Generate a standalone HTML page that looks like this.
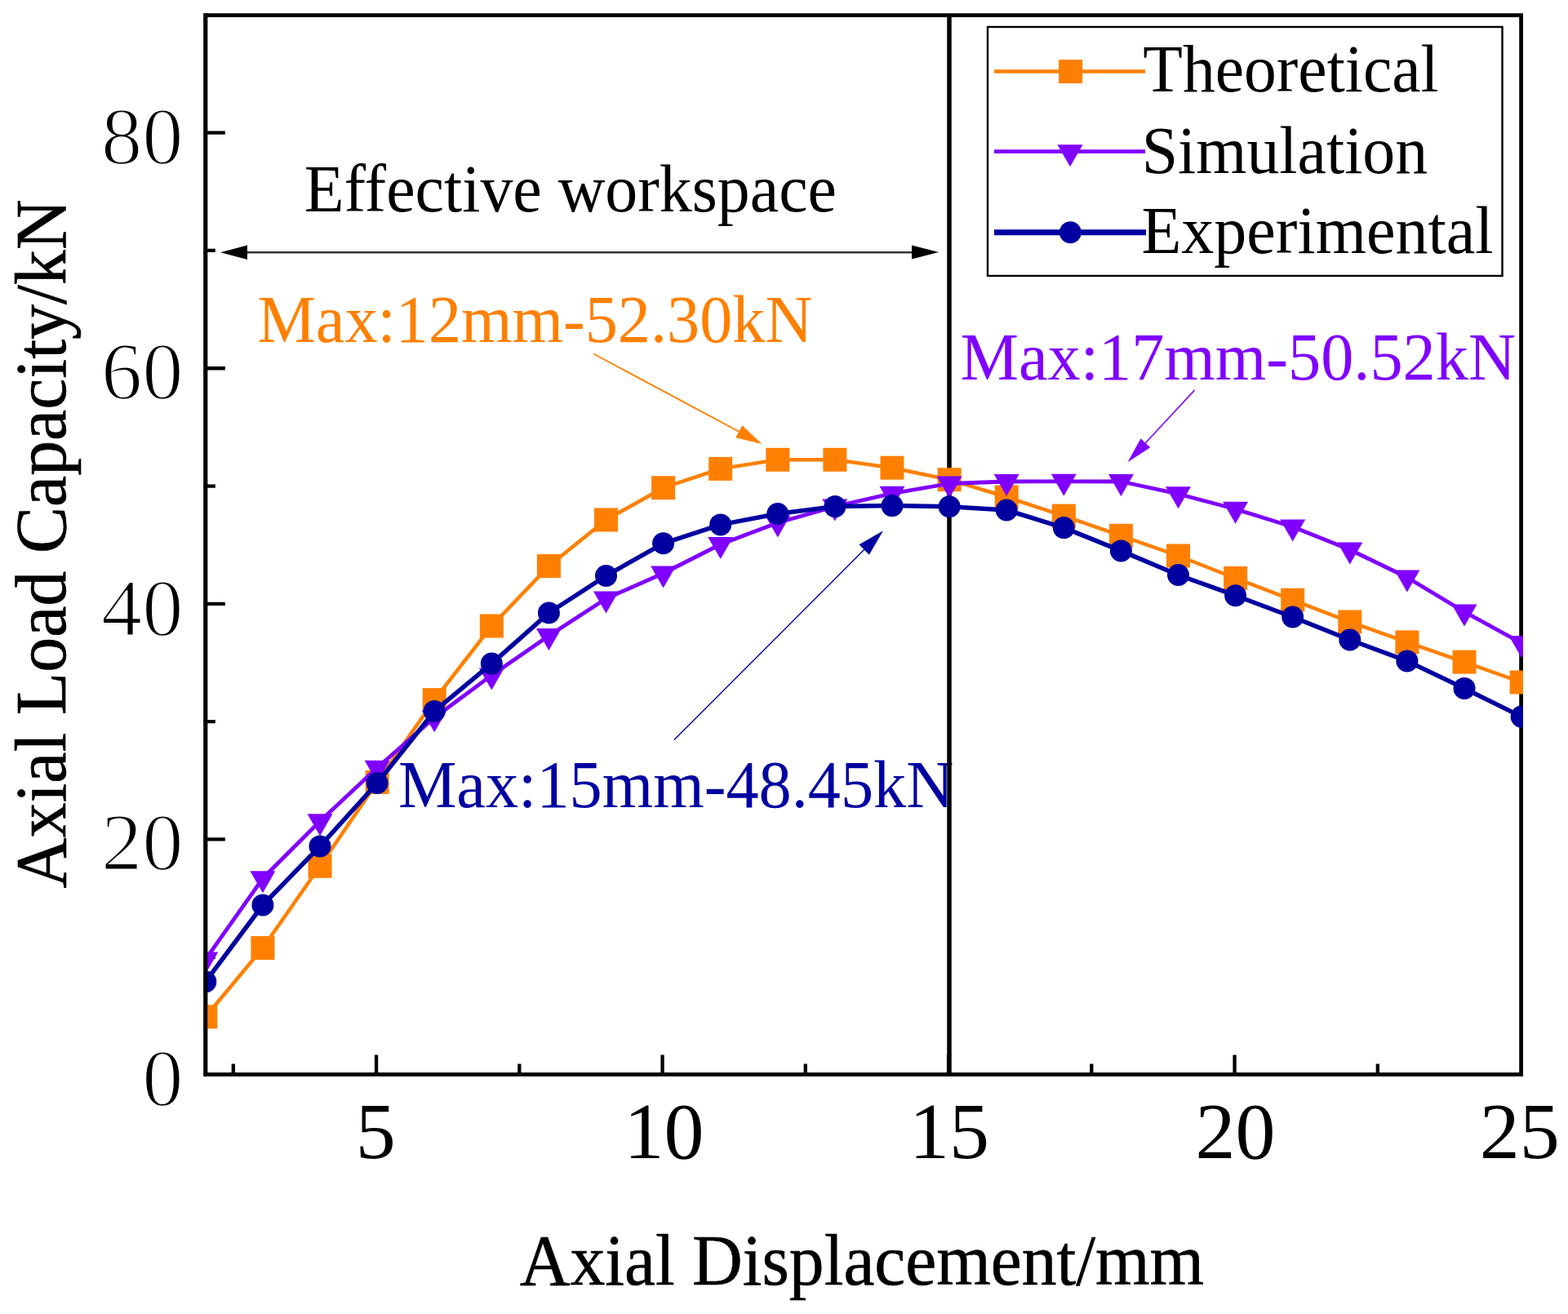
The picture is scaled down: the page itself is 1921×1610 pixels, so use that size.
<!DOCTYPE html>
<html><head><meta charset="utf-8"><title>Axial Load Capacity vs Axial Displacement</title>
<style>html,body{margin:0;padding:0;background:#fff;overflow:hidden;width:1921px;height:1610px;}svg{display:block;}</style></head>
<body><svg width="1921" height="1610" viewBox="0 0 1921 1610" font-family="'Liberation Serif', 'Times New Roman', serif">
<rect x="0" y="0" width="1921" height="1610" fill="#fff"/>
<rect x="251.8" y="18.7" width="1611.8" height="1297.8" fill="none" stroke="#000" stroke-width="4.8"/>
<path d="M461.06,1316.5V1292.5M811.56,1316.5V1292.5M1162.06,1316.5V1292.5M1512.56,1316.5V1292.5M285.81,1316.5V1303.5M636.31,1316.5V1303.5M986.81,1316.5V1303.5M1337.31,1316.5V1303.5M1687.81,1316.5V1303.5M251.8,1028.46H275.8M251.8,739.86H275.8M251.8,451.26H275.8M251.8,162.66H275.8M251.8,1172.76H263.8M251.8,884.16H263.8M251.8,595.56H263.8M251.8,306.96H263.8" stroke="#000" stroke-width="4.3" fill="none"/>
<g font-family="Liberation Serif, Times New Roman, serif">
<text x="224.6" y="200.2" font-size="100.5" text-anchor="end" stroke="#fff" stroke-width="2.2">80</text>
<text x="224.6" y="488.2" font-size="100.5" text-anchor="end" stroke="#fff" stroke-width="2.2">60</text>
<text x="224.6" y="778.0" font-size="100.5" text-anchor="end" stroke="#fff" stroke-width="2.2">40</text>
<text x="224.6" y="1065.0" font-size="100.5" text-anchor="end" stroke="#fff" stroke-width="2.2">20</text>
<text x="224.6" y="1354.4" font-size="100.5" text-anchor="end" stroke="#fff" stroke-width="2.2">0</text>
<text x="460.3" y="1418.8" font-size="98" text-anchor="middle">5</text>
<text x="813.5" y="1418.8" font-size="98" text-anchor="middle">10</text>
<text x="1163.1" y="1418.8" font-size="98" text-anchor="middle">15</text>
<text x="1513.5" y="1418.8" font-size="98" text-anchor="middle">20</text>
<text x="1861.7" y="1418.8" font-size="98" text-anchor="middle">25</text>
<text transform="translate(636.64,1573.5) scale(0.9558,1)" font-size="89.5" fill="#000" stroke="#000" stroke-width="0.6">Axial Displacement/mm</text>
<text transform="translate(79.5,1088.46) rotate(-90) scale(0.9597,1)" font-size="89.5" fill="#000" stroke="#000" stroke-width="0.6">Axial Load Capacity/kN</text>
<text transform="translate(372.7,258.7) scale(0.9737,1)" font-size="82" fill="#000">Effective workspace</text>
<text transform="translate(315.39,419.4) scale(0.9674,1)" font-size="83" fill="#FF8000">Max:12mm-52.30kN</text>
<text transform="translate(1176.49,465.1) scale(0.9679,1)" font-size="83" fill="#8000FF">Max:17mm-50.52kN</text>
<text transform="translate(487.89,989.4) scale(0.9679,1)" font-size="83" fill="#0000A0">Max:15mm-48.45kN</text>
</g>
<line x1="300" y1="309.2" x2="1120" y2="309.2" stroke="#333" stroke-width="2.4"/>
<polygon points="270,309.2 303,300.5 303,317.9" fill="#000"/>
<polygon points="1150,309 1117,300.5 1117,317.5" fill="#000"/>
<line x1="727.1" y1="433.5" x2="906.16" y2="529.28" stroke="#FF8000" stroke-width="1.9"/><polygon points="933.5,543.9 901.27,536.3 909.29,521.31" fill="#FF8000"/>
<line x1="1463.6" y1="477.9" x2="1402.69" y2="543.48" stroke="#8000FF" stroke-width="1.6"/><polygon points="1381.6,566.2 1397.51,537.31 1409.24,548.2" fill="#8000FF"/>
<line x1="825.9" y1="906.5" x2="1059.38" y2="672.84" stroke="#0000A0" stroke-width="1.4"/><polygon points="1082,650.2 1064.86,679.73 1052.48,667.36" fill="#0000A0"/>
<line x1="1163" y1="18.8" x2="1163" y2="1316.2" stroke="#000" stroke-width="5.5"/>
<clipPath id="pc"><rect x="252" y="15" width="1614" height="1305"/></clipPath>
<g clip-path="url(#pc)">
<polyline points="251.8,1245.8 321.9,1161.5 392,1061.3 462.1,958.4 532.2,857.6 602.3,767 672.4,693.6 742.5,637 812.6,597.7 882.7,574.4 952.8,563.3 1022.9,563.3 1093,573.2 1163.1,587.7 1233.2,609 1303.3,632.1 1373.4,656.3 1443.5,681 1513.6,708.5 1583.7,735.2 1653.8,762 1723.9,786.9 1794,811.1 1864.1,836" fill="none" stroke="#FF8000" stroke-width="4.5" stroke-linejoin="round" stroke-linecap="round"/>
<rect x="237.3" y="1231.3" width="29" height="29" fill="#FF8000"/>
<rect x="307.4" y="1147" width="29" height="29" fill="#FF8000"/>
<rect x="377.5" y="1046.8" width="29" height="29" fill="#FF8000"/>
<rect x="447.6" y="943.9" width="29" height="29" fill="#FF8000"/>
<rect x="517.7" y="843.1" width="29" height="29" fill="#FF8000"/>
<rect x="587.8" y="752.5" width="29" height="29" fill="#FF8000"/>
<rect x="657.9" y="679.1" width="29" height="29" fill="#FF8000"/>
<rect x="728" y="622.5" width="29" height="29" fill="#FF8000"/>
<rect x="798.1" y="583.2" width="29" height="29" fill="#FF8000"/>
<rect x="868.2" y="559.9" width="29" height="29" fill="#FF8000"/>
<rect x="938.3" y="548.8" width="29" height="29" fill="#FF8000"/>
<rect x="1008.4" y="548.8" width="29" height="29" fill="#FF8000"/>
<rect x="1078.5" y="558.7" width="29" height="29" fill="#FF8000"/>
<rect x="1148.6" y="573.2" width="29" height="29" fill="#FF8000"/>
<rect x="1218.7" y="594.5" width="29" height="29" fill="#FF8000"/>
<rect x="1288.8" y="617.6" width="29" height="29" fill="#FF8000"/>
<rect x="1358.9" y="641.8" width="29" height="29" fill="#FF8000"/>
<rect x="1429" y="666.5" width="29" height="29" fill="#FF8000"/>
<rect x="1499.1" y="694" width="29" height="29" fill="#FF8000"/>
<rect x="1569.2" y="720.7" width="29" height="29" fill="#FF8000"/>
<rect x="1639.3" y="747.5" width="29" height="29" fill="#FF8000"/>
<rect x="1709.4" y="772.4" width="29" height="29" fill="#FF8000"/>
<rect x="1779.5" y="796.6" width="29" height="29" fill="#FF8000"/>
<rect x="1849.6" y="821.5" width="29" height="29" fill="#FF8000"/>
<polyline points="251.8,1175.4 321.9,1076.3 392,1006.2 462.1,940.7 532.2,879.3 602.3,827.4 672.4,779 742.5,733.5 812.6,702.5 882.7,667 952.8,640.5 1022.9,620.5 1093,604.7 1163.1,592.5 1233.2,590 1303.3,589.8 1373.4,590 1443.5,605.2 1513.6,623.8 1583.7,645.5 1653.8,673.5 1723.9,707.5 1794,749.6 1864.1,788" fill="none" stroke="#8000FF" stroke-width="4.8" stroke-linejoin="round" stroke-linecap="round"/>
<polygon points="236.3,1166.4 267.3,1166.4 251.8,1193.4" fill="#8000FF"/>
<polygon points="306.4,1067.3 337.4,1067.3 321.9,1094.3" fill="#8000FF"/>
<polygon points="376.5,997.2 407.5,997.2 392,1024.2" fill="#8000FF"/>
<polygon points="446.6,931.7 477.6,931.7 462.1,958.7" fill="#8000FF"/>
<polygon points="516.7,870.3 547.7,870.3 532.2,897.3" fill="#8000FF"/>
<polygon points="586.8,818.4 617.8,818.4 602.3,845.4" fill="#8000FF"/>
<polygon points="656.9,770 687.9,770 672.4,797" fill="#8000FF"/>
<polygon points="727,724.5 758,724.5 742.5,751.5" fill="#8000FF"/>
<polygon points="797.1,693.5 828.1,693.5 812.6,720.5" fill="#8000FF"/>
<polygon points="867.2,658 898.2,658 882.7,685" fill="#8000FF"/>
<polygon points="937.3,631.5 968.3,631.5 952.8,658.5" fill="#8000FF"/>
<polygon points="1007.4,611.5 1038.4,611.5 1022.9,638.5" fill="#8000FF"/>
<polygon points="1077.5,595.7 1108.5,595.7 1093,622.7" fill="#8000FF"/>
<polygon points="1147.6,583.5 1178.6,583.5 1163.1,610.5" fill="#8000FF"/>
<polygon points="1217.7,581 1248.7,581 1233.2,608" fill="#8000FF"/>
<polygon points="1287.8,580.8 1318.8,580.8 1303.3,607.8" fill="#8000FF"/>
<polygon points="1357.9,581 1388.9,581 1373.4,608" fill="#8000FF"/>
<polygon points="1428,596.2 1459,596.2 1443.5,623.2" fill="#8000FF"/>
<polygon points="1498.1,614.8 1529.1,614.8 1513.6,641.8" fill="#8000FF"/>
<polygon points="1568.2,636.5 1599.2,636.5 1583.7,663.5" fill="#8000FF"/>
<polygon points="1638.3,664.5 1669.3,664.5 1653.8,691.5" fill="#8000FF"/>
<polygon points="1708.4,698.5 1739.4,698.5 1723.9,725.5" fill="#8000FF"/>
<polygon points="1778.5,740.6 1809.5,740.6 1794,767.6" fill="#8000FF"/>
<polygon points="1848.6,779 1879.6,779 1864.1,806" fill="#8000FF"/>
<polyline points="251.8,1202.9 321.9,1109 392,1036.9 462.1,959.5 532.2,871.4 602.3,813.1 672.4,751 742.5,705.5 812.6,665.8 882.7,642.9 952.8,629.5 1022.9,620.6 1093,619.6 1163.1,620.8 1233.2,625 1303.3,646.6 1373.4,674.9 1443.5,704.5 1513.6,729.7 1583.7,756 1653.8,784 1723.9,809.9 1794,843.4 1864.1,878.1" fill="none" stroke="#0000A0" stroke-width="5.5" stroke-linejoin="round" stroke-linecap="round"/>
<circle cx="251.8" cy="1202.9" r="13.5" fill="#0000A0"/>
<circle cx="321.9" cy="1109" r="13.5" fill="#0000A0"/>
<circle cx="392" cy="1036.9" r="13.5" fill="#0000A0"/>
<circle cx="462.1" cy="959.5" r="13.5" fill="#0000A0"/>
<circle cx="532.2" cy="871.4" r="13.5" fill="#0000A0"/>
<circle cx="602.3" cy="813.1" r="13.5" fill="#0000A0"/>
<circle cx="672.4" cy="751" r="13.5" fill="#0000A0"/>
<circle cx="742.5" cy="705.5" r="13.5" fill="#0000A0"/>
<circle cx="812.6" cy="665.8" r="13.5" fill="#0000A0"/>
<circle cx="882.7" cy="642.9" r="13.5" fill="#0000A0"/>
<circle cx="952.8" cy="629.5" r="13.5" fill="#0000A0"/>
<circle cx="1022.9" cy="620.6" r="13.5" fill="#0000A0"/>
<circle cx="1093" cy="619.6" r="13.5" fill="#0000A0"/>
<circle cx="1163.1" cy="620.8" r="13.5" fill="#0000A0"/>
<circle cx="1233.2" cy="625" r="13.5" fill="#0000A0"/>
<circle cx="1303.3" cy="646.6" r="13.5" fill="#0000A0"/>
<circle cx="1373.4" cy="674.9" r="13.5" fill="#0000A0"/>
<circle cx="1443.5" cy="704.5" r="13.5" fill="#0000A0"/>
<circle cx="1513.6" cy="729.7" r="13.5" fill="#0000A0"/>
<circle cx="1583.7" cy="756" r="13.5" fill="#0000A0"/>
<circle cx="1653.8" cy="784" r="13.5" fill="#0000A0"/>
<circle cx="1723.9" cy="809.9" r="13.5" fill="#0000A0"/>
<circle cx="1794" cy="843.4" r="13.5" fill="#0000A0"/>
<circle cx="1864.1" cy="878.1" r="13.5" fill="#0000A0"/>
</g>
<line x1="251.8" y1="16.3" x2="251.8" y2="1318.9" stroke="#000" stroke-width="4.8"/>
<rect x="1210" y="33" width="630.5" height="305" fill="none" stroke="#000" stroke-width="2.4"/>
<g font-family="Liberation Serif, Times New Roman, serif">
<text transform="translate(1400.31,111.7) scale(0.9591,1)" font-size="83" fill="#000">Theoretical</text>
<text transform="translate(1398.71,211.8) scale(0.9622,1)" font-size="83" fill="#000">Simulation</text>
<text transform="translate(1398.4,310.4) scale(0.9645,1)" font-size="83" fill="#000">Experimental</text>
</g>
<polyline points="1218,87.4 1403,87.4" fill="none" stroke="#FF8000" stroke-width="4.5" stroke-linejoin="round" stroke-linecap="butt"/>
<rect x="1297.1" y="73.1" width="29" height="29" fill="#FF8000"/>
<polyline points="1218,185.6 1403,185.6" fill="none" stroke="#8000FF" stroke-width="4.8" stroke-linejoin="round" stroke-linecap="butt"/>
<polygon points="1295.5,177.2 1326.5,177.2 1311,204.2" fill="#8000FF"/>
<polyline points="1218,284.8 1404,284.8" fill="none" stroke="#0000A0" stroke-width="7" stroke-linejoin="round" stroke-linecap="butt"/>
<circle cx="1311.3" cy="284.8" r="13.5" fill="#0000A0"/>
</svg></body></html>
